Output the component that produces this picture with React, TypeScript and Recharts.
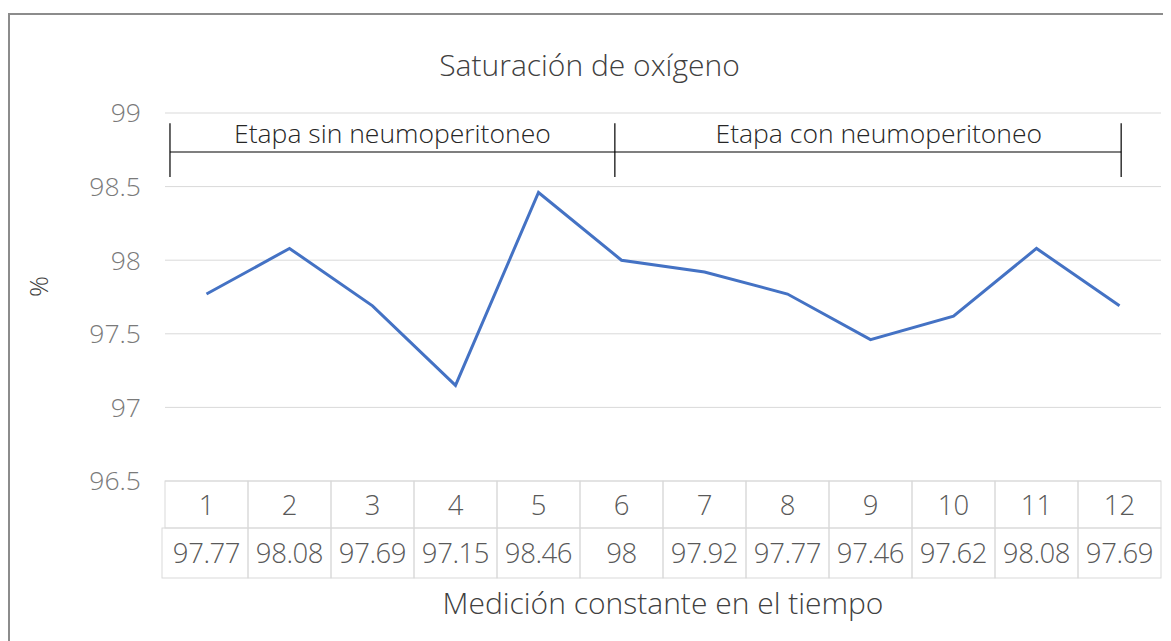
import React from 'react';
import { LineChart, Line, XAxis, YAxis, CartesianGrid, ReferenceLine, ReferenceDot } from 'recharts';

const categories = [1, 2, 3, 4, 5, 6, 7, 8, 9, 10, 11, 12];
const values = [97.77, 98.08, 97.69, 97.15, 98.46, 98, 97.92, 97.77, 97.46, 97.62, 98.08, 97.69];
const valueLabels = ['97.77', '98.08', '97.69', '97.15', '98.46', '98', '97.92', '97.77', '97.46', '97.62', '98.08', '97.69'];
const yTicks = [96.5, 97, 97.5, 98, 98.5, 99];
const stageLabels = ['Etapa sin neumoperitoneo', 'Etapa con neumoperitoneo'];
const stageBounds = [0.56, 5.92, 12.02];
const stageLabelX = [3.24, 9.1];

const data = categories.map((c, i) => ({ x: c, v: values[i], label: valueLabels[i] }));

const W = 1161;
const H = 626;
const M = { top: 98, right: 10, left: 0, bottom: 0 };
const YW = 155;
const XH = 160;
const CELL_W = (W - YW - M.right) / categories.length;
const ROW1 = 47;
const ROW2 = 50;
const FONT = '"Open Sans", "Noto Sans", sans-serif';
const TXT = '#595959';
const GRID = '#d9d9d9';

const TableTick = (props: any) => {
  const { x, y, payload } = props;
  const idx = categories.indexOf(payload.value);
  const left = x - CELL_W / 2;
  return (
    <g>
      <rect x={left} y={y} width={CELL_W} height={ROW1} fill="none" stroke={GRID} strokeWidth={1} />
      <rect x={idx === 0 ? left - 3 : left} y={y + ROW1} width={idx === 0 ? CELL_W + 3 : CELL_W} height={ROW2} fill="none" stroke={GRID} strokeWidth={1} />
      <text x={x} y={y + ROW1 / 2 + 10} textAnchor="middle" fontSize={27.5} fontFamily={FONT} fontWeight={300} fill={TXT}>
        {payload.value}
      </text>
      <text x={x} y={y + ROW1 + ROW2 / 2 + 10} textAnchor="middle" fontSize={27.5} fontFamily={FONT} fontWeight={300} fill={TXT} letterSpacing={-0.4}>
        {idx >= 0 ? valueLabels[idx] : ''}
      </text>
    </g>
  );
};

export default function App() {
  return (
    <div style={{ marginTop: 5, borderLeft: '2px solid #8c8c8c', borderTop: '2px solid #8c8c8c', width: W, height: H, position: 'relative', fontFamily: FONT }}>
      <div style={{ position: 'absolute', left: 0, width: W, top: 29, textAlign: 'center', fontSize: 30, fontWeight: 300, color: '#404040' }}>
        <span style={{ position: 'relative', left: -1 }}>Saturación de oxígeno</span>
      </div>
      <LineChart width={W} height={H} data={data} margin={M}>
        <CartesianGrid vertical={false} stroke={GRID} strokeWidth={1} />
        <XAxis
          dataKey="x"
          type="number"
          domain={[0.5, 12.5]}
          ticks={categories}
          allowDataOverflow
          height={XH}
          axisLine={false}
          tickLine={false}
          tickSize={0}
          tickMargin={0}
          interval={0}
          tick={<TableTick />}
          label={{ value: 'Medición constante en el tiempo', position: 'insideBottom', offset: 27, fontSize: 30, fontFamily: FONT, fontWeight: 300, fill: '#404040' }}
        />
        <YAxis
          type="number"
          domain={[96.5, 99]}
          ticks={yTicks}
          width={YW}
          axisLine={false}
          tickLine={false}
          tickSize={0}
          tickMargin={24}
          tick={{ fontSize: 26.5, fontFamily: FONT, fontWeight: 300, fill: '#7a7a7a' }}
          tickFormatter={(v: number) => String(v)}
          label={{ value: '%', angle: -90, position: 'insideLeft', offset: 29, fontSize: 26, fontFamily: FONT, fontWeight: 300, fill: '#404040' }}
        />
        <ReferenceLine segment={[{ x: stageBounds[0], y: 98.735 }, { x: stageBounds[2], y: 98.735 }]} stroke="#000" strokeWidth={1.2} ifOverflow="visible" />
        {stageBounds.map((b, i) => (
          <ReferenceLine key={i} segment={[{ x: b, y: 98.93 }, { x: b, y: 98.565 }]} stroke="#000" strokeWidth={1.2} ifOverflow="visible" />
        ))}
        {stageLabels.map((s, i) => (
          <ReferenceDot
            key={s}
            x={stageLabelX[i]}
            y={98.86}
            r={0}
            fill="none"
            stroke="none"
            ifOverflow="visible"
            label={{ value: s, position: 'center', fontSize: 26.5, fontFamily: FONT, fontWeight: 300, fill: '#262626' }}
          />
        ))}
        <Line type="linear" dataKey="v" stroke="#4472C4" strokeWidth={3} dot={false} isAnimationActive={false} />
      </LineChart>
    </div>
  );
}
